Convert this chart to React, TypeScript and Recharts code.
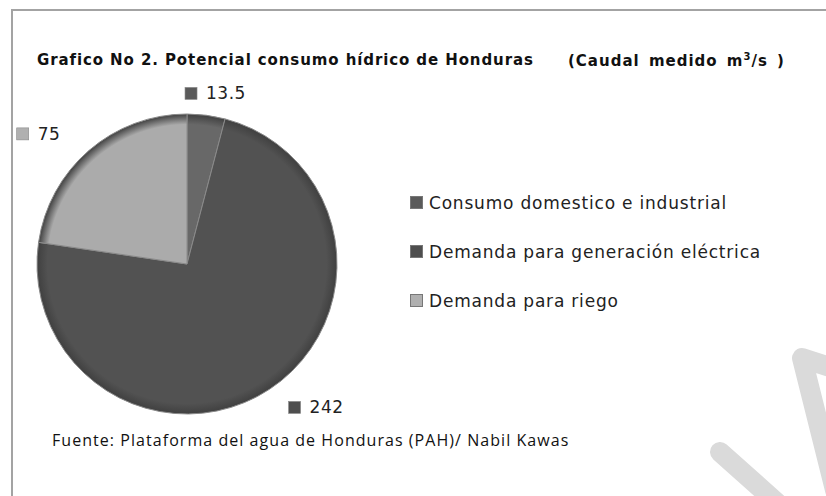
import React from "react";
import { PieChart, Pie, Cell, Legend } from "recharts";

const categories = [
  "Consumo domestico e industrial",
  "Demanda para generación eléctrica",
  "Demanda para riego",
];
const values = [13.5, 242, 75];
const labels = ["13.5", "242", "75"];
const colors = ["#686868", "#525252", "#ababab"];
const markerColors = ["#5a5a5a", "#4e4e4e", "#b0b0b0"];

const data = categories.map((name, i) => ({ name, value: values[i], label: labels[i] }));

const RADIAN = Math.PI / 180;
const CX = 187;
const CY = 264;
const R = 150;

// etiqueta con cuadrito, afuera del pastel
const renderLabel = (props: any) => {
  const { cx, cy, midAngle, outerRadius, index } = props;
  const cos = Math.cos(-midAngle * RADIAN);
  const sin = Math.sin(-midAngle * RADIAN);
  const r = outerRadius + 22;
  const px = cx + r * cos;
  const py = cy + r * sin;
  const txt = labels[index];
  const w = 21 + txt.length * 11;
  const mx = px - w / 2 + cos * (w / 2 + 34);
  const my = py;
  return (
    <g key={"lbl" + index}>
      <rect x={mx} y={my - 6} width={12} height={12} fill={markerColors[index]} stroke="#888" strokeWidth={0.6} />
      <text
        x={mx + 21}
        y={my + 6}
        fontFamily="DejaVu Sans"
        fontSize={17}
        fill="#222"
        letterSpacing={0.5}
      >
        {txt}
      </text>
    </g>
  );
};

const renderLegend = (props: any) => {
  const { payload } = props;
  return (
    <div>
      {payload.map((p: any, i: number) => (
        <div
          key={p.value}
          style={{
            display: "flex",
            alignItems: "center",
            height: 49,
            fontFamily: "DejaVu Sans",
            fontSize: 17,
            letterSpacing: 0.8,
            color: "#222",
            whiteSpace: "nowrap",
          }}
        >
          <span
            style={{
              display: "inline-block",
              width: 13,
              height: 13,
              background: markerColors[i],
              border: "1px solid #777",
              boxSizing: "border-box",
              marginRight: 6,
            }}
          />
          {p.value}
        </div>
      ))}
    </div>
  );
};

export default function App() {
  return (
    <div style={{ position: "absolute", left: 0, top: 0, width: 826, height: 496, background: "#fff", overflow: "hidden" }}>
      {/* marco */}
      <div
        style={{
          position: "absolute",
          left: 11,
          top: 9,
          width: 830,
          height: 500,
          borderTop: "2px solid #a3a3a3",
          borderLeft: "2px solid #a3a3a3",
        }}
      />
      <div
        style={{
          position: "absolute",
          left: 37,
          top: 51,
          fontFamily: "DejaVu Sans",
          fontWeight: "bold",
          fontSize: 15,
          letterSpacing: 0.9,
          color: "#111",
          whiteSpace: "pre",
        }}
      >
        Grafico No 2. Potencial consumo hídrico de Honduras
      </div>
      <div
        style={{
          position: "absolute",
          left: 568,
          top: 51,
          fontFamily: "DejaVu Sans",
          fontWeight: "bold",
          fontSize: 15,
          letterSpacing: 1,
          wordSpacing: 3,
          color: "#111",
          whiteSpace: "pre",
        }}
      >
        (Caudal medido m<sup style={{ fontSize: 10 }}>3</sup>/s )
      </div>
      <div
        style={{
          position: "absolute",
          left: 52,
          top: 429,
          fontFamily: "Open Sans",
          fontSize: 16,
          letterSpacing: 1.05,
          color: "#111",
          whiteSpace: "pre",
        }}
      >
        Fuente: Plataforma del agua de Honduras (PAH)/ Nabil Kawas
      </div>

      <div style={{ position: "absolute", left: 0, top: 0 }}>
        <PieChart width={826} height={496} margin={{ top: 0, right: 0, bottom: 0, left: 0 }}>
          <defs>
            {colors.map((c, i) => (
              <radialGradient
                key={i}
                id={"g" + i}
                gradientUnits="userSpaceOnUse"
                cx={CX}
                cy={CY}
                r={R}
              >
                <stop offset="0%" stopColor={c} />
                <stop offset="93%" stopColor={c} />
                <stop offset="100%" stopColor="#404040" />
              </radialGradient>
            ))}
          </defs>
          <Pie
            data={data}
            dataKey="value"
            nameKey="name"
            cx={CX}
            cy={CY}
            outerRadius={R}
            startAngle={90}
            endAngle={-270}
            stroke="#8a8a8a"
            strokeWidth={1}
            label={renderLabel}
            labelLine={false}
            isAnimationActive={false}
          >
            {data.map((d, i) => (
              <Cell key={d.name} fill={`url(#g${i})`} />
            ))}
          </Pie>
          <Legend
            layout="vertical"
            content={renderLegend}
            wrapperStyle={{ position: "absolute", left: 410, top: 178, width: 400 }}
          />
        </PieChart>
      </div>

      {/* marca de agua */}
      <svg style={{ position: "absolute", left: 0, top: 0 }} width={826} height={496}>
        <g stroke="#dadada" strokeWidth={20} strokeLinecap="round" strokeLinejoin="round" fill="none">
          <line x1={720} y1={452} x2={785} y2={510} />
          <polyline points="845,372 802,358 835,490" />
        </g>
      </svg>
    </div>
  );
}
